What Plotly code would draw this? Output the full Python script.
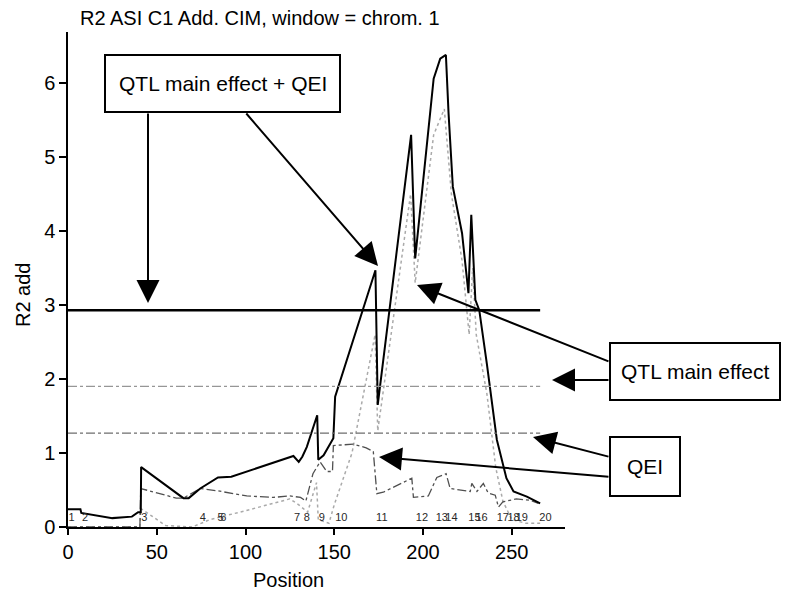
import plotly.graph_objects as go

# total R2 (QTL main effect + QEI), solid black
pos_total = [0, 7, 7.5, 25, 36, 39.5, 41, 41.2, 65, 68, 74.5, 84.5, 92, 127, 130, 132, 134.5,
             140.4, 141, 144, 149.5, 150.5, 173.2, 174.5, 193.3, 195.6, 206, 209.7, 212.9,
             214.4, 216.8, 222, 225.6, 227.2, 229.5, 231.7, 236, 241.6, 247, 251, 258.5, 266]
r2_total = [0.24, 0.24, 0.19, 0.12, 0.14, 0.2, 0.2, 0.81, 0.39, 0.39, 0.52, 0.67, 0.68, 0.96, 0.88, 0.95, 1.08,
            1.51, 0.91, 0.97, 1.2, 1.76, 3.47, 1.65, 5.3, 3.63, 6.06, 6.33, 6.38,
            5.59, 4.6, 3.97, 3.16, 4.22, 3.07, 2.93, 2.2, 1.18, 0.66, 0.48, 0.41, 0.32]

# QTL main effect, light dotted
pos_main = [0, 40.5, 41, 55, 70, 80, 100, 125, 130, 135, 140, 141, 147, 150, 160, 173, 174.5,
            193, 195.6, 206, 212, 216, 222, 226, 228, 230, 236, 241, 245, 250, 258, 266]
r2_main = [0, 0, 0.25, 0.02, 0, 0.1, 0.22, 0.38, 0.3, 0.2, 0.6, 0.1, 0.05, 0.3, 1.0, 2.6, 1.3,
           4.5, 3.3, 5.3, 5.65, 4.5, 3.6, 2.6, 3.5, 2.6, 1.8, 0.8, 0.35, 0.1, 0.05, 0.05]

# QEI, dash-dot
pos_qei = [0, 40.5, 41, 61, 65, 74.5, 84, 100.7, 115.6, 125, 131, 134, 138, 142, 145.8, 149, 149.5,
           159, 160.7, 168, 172, 174, 177.6, 193.7, 194.6, 203, 207.8, 213, 215.3, 226.6, 227.5,
           230.4, 234, 236.7, 240.7, 242.5, 245, 252.6, 260.4, 265]
r2_qei = [0.0, 0.0, 0.52, 0.39, 0.39, 0.52, 0.49, 0.42, 0.40, 0.42, 0.40, 0.35, 0.72, 0.88, 0.75, 0.75, 1.1,
          1.12, 1.12, 1.07, 1.02, 0.45, 0.47, 0.66, 0.40, 0.42, 0.67, 0.72, 0.52, 0.48, 0.59,
          0.48, 0.59, 0.46, 0.43, 0.27, 0.34, 0.38, 0.36, 0.32]

# significance thresholds
thr_values = [2.93, 1.9, 1.27]
thr_end = 266

# marker positions along the chromosome
marker_pos = [2, 9.6, 43, 76, 86, 87.5, 129, 134.5, 143, 154, 176.8, 199.4, 210.6, 216,
              229, 233, 245, 251, 255.7, 269]
marker_labels = [str(i) for i in range(1, 21)]

# page body has an 8px margin, so the figure is drawn 8px smaller and everything shifted
OFF = 8
W, H = 796 - OFF, 601 - OFF
L, R, T, B = 68 - OFF, 565 - OFF, 32 - OFF, 527 - OFF
FONT = "Liberation Sans, Arial, sans-serif"


def px(xp, yp):
    # reference-image pixel -> paper coords
    return (xp - OFF - L) / (R - L), (B - (yp - OFF)) / (B - T)


fig = go.Figure()

fig.add_trace(go.Scatter(x=pos_main, y=r2_main, mode="lines",
                         line=dict(color="rgb(170,170,170)", width=1.5, dash="dot")))
fig.add_trace(go.Scatter(x=pos_qei, y=r2_qei, mode="lines",
                         line=dict(color="rgb(80,80,80)", width=1.3, dash="dashdot")))
fig.add_trace(go.Scatter(x=pos_total, y=r2_total, mode="lines",
                         line=dict(color="black", width=2)))

thr_styles = [dict(color="black", width=2.5),
              dict(color="rgb(150,150,150)", width=1.2, dash="dashdot"),
              dict(color="rgb(110,110,110)", width=1.2, dash="dashdot")]
for v, st in zip(thr_values, thr_styles):
    fig.add_trace(go.Scatter(x=[0, thr_end], y=[v, v], mode="lines", line=st))

fig.add_trace(go.Scatter(x=marker_pos, y=[0.12] * len(marker_pos), mode="text",
                         text=marker_labels,
                         textfont=dict(family="Liberation Sans Narrow, " + FONT, size=11,
                                       color="rgb(40,40,40)")))

# boxes (reference pixel coords)
boxes = [(105, 55, 340, 112, "QTL main effect + QEI"),
         (610, 343, 780, 400, "QTL main effect"),
         (610, 437, 680, 496, "QEI")]
for x0, y0, x1, y1, txt in boxes:
    a0, b0 = px(x0, y1)
    a1, b1 = px(x1, y0)
    fig.add_shape(type="rect", xref="paper", yref="paper", x0=a0, y0=b0, x1=a1, y1=b1,
                  line=dict(color="black", width=2), fillcolor="white")
    cx, cy = px((x0 + x1) / 2, (y0 + y1) / 2)
    fig.add_annotation(xref="paper", yref="paper", x=cx, y=cy, text=txt, showarrow=False,
                       xanchor="center", yanchor="middle",
                       font=dict(family=FONT, size=21, color="black"))

# arrows: head, tail in reference pixels
arrows = [((148, 303), (148, 112)),
          ((378, 266), (245, 112)),
          ((417, 285), (610, 362)),
          ((552, 380), (610, 380)),
          ((533, 437), (610, 457)),
          ((379, 457), (610, 477))]
for (hx, hy), (tx, ty) in arrows:
    xx, yy = px(hx, hy)
    fig.add_annotation(xref="paper", yref="paper", x=xx, y=yy, text="", showarrow=True,
                       axref="pixel", ayref="pixel", ax=tx - hx, ay=ty - hy,
                       arrowhead=2, arrowsize=2.3, arrowwidth=2, arrowcolor="black",
                       standoff=0, startstandoff=0)

# axis titles
xt, yt = px(288, 580)
fig.add_annotation(xref="paper", yref="paper", x=xt, y=yt, text="Position", showarrow=False,
                   xanchor="center", yanchor="middle",
                   font=dict(family=FONT, size=20, color="black"))
xt, yt = px(23, 295)
fig.add_annotation(xref="paper", yref="paper", x=xt, y=yt, text="R2 add", showarrow=False,
                   xanchor="center", yanchor="middle",
                   textangle=-90, font=dict(family=FONT, size=20, color="black"))

fig.update_layout(
    width=W, height=H,
    margin=dict(l=L, r=W - R, t=T, b=H - B),
    paper_bgcolor="white", plot_bgcolor="white",
    showlegend=False,
    title=dict(text="R2 ASI C1 Add. CIM, window = chrom. 1", x=(80 - OFF) / W, xanchor="left",
               y=1 - 3 / H, yanchor="top", xref="container", yref="container", pad=dict(t=0),
               font=dict(family=FONT, size=20, color="black")),
    font=dict(family=FONT, size=20, color="black"),
)
fig.update_xaxes(range=[0, 280], tickvals=[0, 50, 100, 150, 200, 250], showgrid=False,
                 zeroline=False, showline=True, linecolor="black", linewidth=1.5,
                 ticks="outside", ticklen=6, tickcolor="black", tickwidth=1.5,
                 tickfont=dict(size=20))
fig.update_yaxes(range=[0, 6.69], tickvals=[0, 1, 2, 3, 4, 5, 6], showgrid=False,
                 zeroline=False, showline=True, linecolor="black", linewidth=1.5,
                 ticks="outside", ticklen=7, tickcolor="black", tickwidth=1.5,
                 tickfont=dict(size=20))

fig.write_html("out.html")
